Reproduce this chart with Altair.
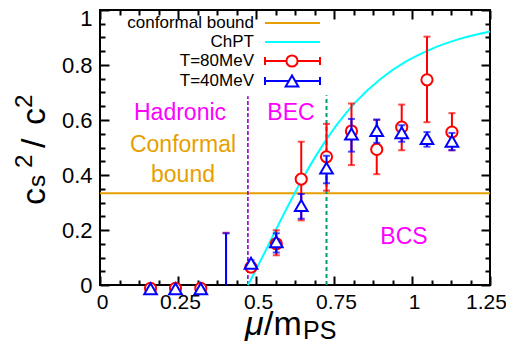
import altair as alt
import pandas as pd

# ---------------- data ----------------
mu = [0.162, 0.242, 0.323, 0.404, 0.484, 0.565, 0.645, 0.726, 0.806, 0.887, 0.967, 1.048, 1.128]

cs2_T80 = [-0.012, -0.012, -0.012, -0.20, 0.065, 0.150, 0.385, 0.466, 0.560, 0.493, 0.574, 0.746, 0.556]
lo_T80 = [-0.015, -0.015, -0.015, -0.40, 0.055, 0.108, 0.235, 0.343, 0.436, 0.403, 0.490, 0.592, 0.490]
hi_T80 = [-0.009, -0.009, -0.009, 0.190, 0.075, 0.199, 0.521, 0.586, 0.660, 0.600, 0.656, 0.903, 0.625]

cs2_T40 = [-0.014, -0.014, -0.014, -0.20, 0.079, 0.157, 0.289, 0.425, 0.549, 0.562, 0.554, 0.533, 0.523]
lo_T40 = [-0.017, -0.017, -0.017, -0.40, 0.068, 0.118, 0.241, 0.370, 0.485, 0.517, 0.521, 0.503, 0.490]
hi_T40 = [-0.011, -0.011, -0.011, 0.188, 0.090, 0.188, 0.331, 0.470, 0.604, 0.602, 0.581, 0.556, 0.553]

chpt_mu = [0.474, 0.485, 0.50, 0.53, 0.56, 0.60, 0.65, 0.70, 0.76, 0.82, 0.90, 0.98, 1.06, 1.15, 1.25]
chpt_cs2 = [0.0, 0.023, 0.056, 0.123, 0.192, 0.282, 0.388, 0.484, 0.584, 0.666, 0.750, 0.812, 0.857, 0.894, 0.922]

conformal = [1 / 3]
boundary_mu = [0.474, 0.726]
boundary_top = [0.686, 0.690]

x_ticks = [k * 0.0625 for k in range(21)]
x_labels = [0, 0.25, 0.5, 0.75, 1, 1.25]
y_ticks = [k * 0.05 for k in range(21)]
y_labels = [0, 0.2, 0.4, 0.6, 0.8, 1]

legend_labels = ["conformal bound", "ChPT", "T=80MeV", "T=40MeV"]
region_labels = ["Hadronic", "BEC", "Conformal", "bound", "BCS"]

# ---------------- styling ----------------
FONT = "Liberation Sans"
ORANGE = "#E69F00"
CYAN = "#00FFFF"
RED = "#FF0000"
BLUE = "#0000FF"
PURPLE = "#9400D3"
GREEN = "#009E73"
MAGENTA = "#FF00FF"
W, H = 390, 275

XS = alt.Scale(domain=[0, 1.25], nice=False, zero=False)
YS = alt.Scale(domain=[0, 1], nice=False, zero=False)


def xq(f):
    return alt.X(f, type="quantitative", scale=XS, axis=None)


def yq(f):
    return alt.Y(f, type="quantitative", scale=YS, axis=None)


def one(text):
    return alt.Chart(pd.DataFrame({"t": [text]}))


df80 = pd.DataFrame({"mu": mu, "v": cs2_T80, "lo": lo_T80, "hi": hi_T80})
df40 = pd.DataFrame({"mu": mu, "v": cs2_T40, "lo": lo_T40, "hi": hi_T40})
dfc = pd.DataFrame({"mu": chpt_mu, "v": chpt_cs2})
dfconf = pd.DataFrame({"v": conformal})
dfb = pd.DataFrame({"mu": boundary_mu, "lo": [0, 0], "hi": boundary_top})
dfax = pd.DataFrame({"mu": [0, 1.25], "v": [0, 1]})

# ---------------- axes (labels outside, ticks pointing inward) ----------------
x_major = {"condition": {"test": "abs(datum.value*4 - round(datum.value*4)) < 0.001", "value": 9}, "value": 5}
y_major = {"condition": {"test": "abs(datum.value*5 - round(datum.value*5)) < 0.001", "value": 9}, "value": 5}

tick_common = dict(grid=False, domain=False, labels=False, title=None, tickColor="black", tickWidth=2)

ax_labels = alt.Chart(dfax).mark_point(opacity=0).encode(
    x=alt.X("mu:Q", scale=XS, axis=alt.Axis(
        orient="bottom", values=x_labels, format=".3~g", ticks=False, tickSize=0, domain=False,
        grid=False, title=None, labelFont=FONT, labelFontSize=21, labelColor="black",
        labelPadding=6, labelFlush=False,
        labelOffset={"condition": {"test": "datum.value > 1.2", "value": -4}, "value": 2})),
    y=alt.Y("v:Q", scale=YS, axis=alt.Axis(
        orient="left", values=y_labels, format=".3~g", ticks=False, tickSize=0, domain=False,
        grid=False, title=None, labelFont=FONT, labelFontSize=22, labelColor="black",
        labelPadding=8, labelFlush=False,
        labelOffset={"condition": {"test": "datum.value > 0.99", "value": 8}, "value": 0})),
)

ax_ticks_a = alt.Chart(dfax).mark_point(opacity=0).encode(
    x=alt.X("mu:Q", scale=XS, axis=alt.Axis(orient="top", offset=-H, values=x_ticks,
                                             tickSize=x_major, **tick_common)),
    y=alt.Y("v:Q", scale=YS, axis=alt.Axis(orient="right", offset=-W, values=y_ticks,
                                            tickSize=y_major, **tick_common)),
)

ax_ticks_b = alt.Chart(dfax).mark_point(opacity=0).encode(
    x=alt.X("mu:Q", scale=XS, axis=alt.Axis(orient="bottom", offset=-H, values=x_ticks,
                                             tickSize=x_major, **tick_common)),
    y=alt.Y("v:Q", scale=YS, axis=alt.Axis(orient="left", offset=-W, values=y_ticks,
                                            tickSize=y_major, **tick_common)),
)

# ---------------- data layers ----------------
conf_line = alt.Chart(dfconf).mark_rule(color=ORANGE, strokeWidth=2).encode(y=yq("v"))

bound_purple = alt.Chart(dfb.iloc[[0]]).mark_rule(color=PURPLE, strokeWidth=1.6, strokeDash=[4, 2]).encode(
    x=xq("mu"), y=yq("lo"), y2="hi")
bound_green = alt.Chart(dfb.iloc[[1]]).mark_rule(color=GREEN, strokeWidth=2, strokeDash=[4, 3]).encode(
    x=xq("mu"), y=yq("lo"), y2="hi")

chpt = alt.Chart(dfc).mark_line(color=CYAN, strokeWidth=2, interpolate="monotone").encode(
    x=xq("mu"), y=yq("v"))


def err_layers(df, color):
    bar = alt.Chart(df).mark_rule(color=color, strokeWidth=2, clip=True).encode(
        x=xq("mu"), y=yq("lo"), y2="hi")
    cap_lo = alt.Chart(df).transform_filter("datum.lo > -0.1").mark_tick(
        color=color, orient="horizontal", size=7, thickness=2).encode(x=xq("mu"), y=yq("lo"))
    cap_hi = alt.Chart(df).mark_tick(color=color, orient="horizontal", size=7, thickness=2).encode(
        x=xq("mu"), y=yq("hi"))
    return [bar, cap_lo, cap_hi]


pts80 = alt.Chart(df80).transform_filter("datum.v > -0.1").mark_point(
    shape="circle", size=125, filled=True, fill="white", stroke=RED, strokeWidth=2, opacity=1
).encode(x=xq("mu"), y=yq("v"))
pts40 = alt.Chart(df40).transform_filter("datum.v > -0.1").mark_point(
    shape="triangle-up", size=160, filled=True, fill="white", stroke=BLUE, strokeWidth=2, opacity=1
).encode(x=xq("mu"), y=yq("v"))

# ---------------- region annotations ----------------
ann = []
ann_pos = [(80, 103, MAGENTA), (191, 103, MAGENTA), (83, 135, ORANGE), (83, 165, ORANGE), (304, 227, MAGENTA)]
for lab, (px, py, col) in zip(region_labels, ann_pos):
    ann.append(one(lab).mark_text(font=FONT, fontSize=23, color=col, align="center",
                                  baseline="middle").encode(text="t:N", x=alt.value(px), y=alt.value(py)))

# ---------------- legend (label left, sample right) ----------------
leg = []
rows = [13, 32, 51, 71]
LX0, LX1, LXS, LTX = 165, 220, 192, 154
for lab, ry in zip(legend_labels, rows):
    leg.append(one(lab).mark_text(font=FONT, fontSize=17, color="black", align="right",
                                  baseline="middle").encode(text="t:N", x=alt.value(LTX), y=alt.value(ry)))
leg_colors = [ORANGE, CYAN, RED, BLUE]
for col, ry in zip(leg_colors, rows):
    leg.append(one("l").mark_rule(color=col, strokeWidth=2).encode(
        x=alt.value(LX0), x2=alt.value(LX1), y=alt.value(ry)))
for col, ry, shp, sz in [(RED, rows[2], "circle", 125), (BLUE, rows[3], "triangle-up", 160)]:
    for cx in (LX0, LX1):
        leg.append(one("c").mark_rule(color=col, strokeWidth=2).encode(
            x=alt.value(cx), y=alt.value(ry - 4), y2=alt.value(ry + 4)))
    leg.append(one("p").mark_point(shape=shp, size=sz, filled=True, fill="white", stroke=col,
                                   strokeWidth=2, opacity=1).encode(x=alt.value(LXS), y=alt.value(ry)))

# ---------------- axis titles ----------------
titles = [
    one("μ").mark_text(font=FONT, fontSize=34, fontStyle="italic", align="left", baseline="alphabetic",
                       color="black").encode(text="t:N", x=alt.value(145), y=alt.value(325)),
    one("/m").mark_text(font=FONT, fontSize=34, align="left", baseline="alphabetic",
                        color="black").encode(text="t:N", x=alt.value(164), y=alt.value(325)),
    one("PS").mark_text(font=FONT, fontSize=25, align="left", baseline="alphabetic",
                        color="black").encode(text="t:N", x=alt.value(203), y=alt.value(329)),
]
ytitle_parts = [("c", 34, -55, 195), ("s", 24, -55, 177), ("2", 24, -68, 158),
                ("/", 34, -55, 138), ("c", 34, -55, 115), ("2", 24, -68, 98)]
for txt, fs, px, py in ytitle_parts:
    titles.append(one(txt).mark_text(font=FONT, fontSize=fs, angle=270, align="left",
                                     baseline="alphabetic", color="black").encode(
        text="t:N", x=alt.value(px), y=alt.value(py)))

layers = ([ax_labels, ax_ticks_a, ax_ticks_b, conf_line, bound_purple, bound_green, chpt]
          + err_layers(df80, RED) + [pts80] + err_layers(df40, BLUE) + [pts40]
          + ann + leg + titles)

chart = alt.layer(*layers).resolve_axis(x="independent", y="independent").properties(
    width=W, height=H,
    autosize=alt.AutoSizeParams(type="none"),
    padding={"left": 92, "top": 2, "right": 16, "bottom": 59},
).configure_view(stroke="black", strokeWidth=2)

chart.save("out.html", embed_options={"renderer": "svg", "actions": False})
